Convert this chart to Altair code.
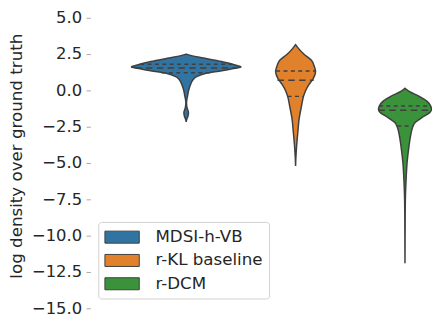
import altair as alt
import pandas as pd

groups = ["MDSI-h-VB", "r-KL baseline", "r-DCM"]
colors = ["#3274a1", "#e1812c", "#3a923a"]

# violin profiles: value (y) and relative density width (1.0 = widest violin)
blue_y = [2.50, 2.41, 2.18, 1.96, 1.80, 1.70, 1.65, 1.62, 1.59, 1.54, 1.45, 1.35, 1.17, 0.95, 0.72, 0.38, 0.05, -0.41, -0.81, -1.19, -1.53, -1.76, -2.03, -2.16]
blue_w = [0.0, 0.08, 0.38, 0.68, 0.85, 0.94, 0.985, 1.0, 0.985, 0.92, 0.80, 0.65, 0.35, 0.19, 0.122, 0.077, 0.047, 0.024, 0.006, 0.015, 0.042, 0.033, 0.008, 0.0]

orange_y = [3.15, 2.86, 2.52, 2.07, 1.62, 1.28, 0.83, 0.38, -0.07, -0.41, -1.08, -1.98, -2.88, -3.78, -4.68, -5.2]
orange_w = [0.0, 0.06, 0.145, 0.29, 0.345, 0.365, 0.325, 0.24, 0.177, 0.145, 0.108, 0.064, 0.041, 0.02, 0.005, 0.0]

green_y = [0.15, -0.07, -0.41, -0.74, -1.08, -1.31, -1.53, -1.87, -2.21, -2.55, -3.0, -3.9, -5.02, -5.9, -6.8, -7.5, -9.0, -10.5, -11.9]
green_w = [0.0, 0.075, 0.26, 0.40, 0.47, 0.485, 0.45, 0.31, 0.186, 0.138, 0.108, 0.071, 0.037, 0.023, 0.0125, 0.007, 0.003, 0.0015, 0.0]

# inner quartile lines: lower/upper quartiles and median
blue_q = [1.80, 1.55, 1.21]
blue_qw = [0.84, 0.93, 0.45]
orange_q = [1.34, 0.70, -0.41]
orange_qw = [0.355, 0.33, 0.145]
green_q = [-1.07, -1.36, -2.45]
green_qw = [0.475, 0.485, 0.14]
q_kind = ["quartile", "median", "quartile"]

y_ticks = [5.0, 2.5, 0.0, -2.5, -5.0, -7.5, -10.0, -12.5, -15.0]

profiles = [(blue_y, blue_w), (orange_y, orange_w), (green_y, green_w)]
quarts = [(blue_q, blue_qw), (orange_q, orange_qw), (green_q, green_qw)]

dodge = 0.8 / len(groups)
rows = []
qrows = []
for i, g in enumerate(groups):
    center = (i - (len(groups) - 1) / 2) * dodge
    ys, ws = profiles[i]
    for v, w in zip(ys, ws):
        hw = w * dodge / 2
        rows.append({"group": g, "value": v, "lo": center - hw, "hi": center + hw})
    qs, qws = quarts[i]
    for v, w, kind in zip(qs, qws, q_kind):
        hw = w * dodge / 2
        qrows.append({"group": g, "kind": kind, "value": v, "lo": center - hw, "hi": center + hw})

df = pd.DataFrame(rows)
qdf = pd.DataFrame(qrows)

FONT = "DejaVu Sans"
EDGE = "#3f3f3f"

xscale = alt.Scale(domain=[-0.5, 0.3325], nice=False, zero=False)
yscale = alt.Scale(domain=[-15, 5], nice=False, zero=False)

yaxis = alt.Axis(
    values=y_ticks, format=".1f", title="log density over ground truth",
    titleFont=FONT, titleFontSize=17, titleFontWeight="normal", titleColor="#262626",
    titleX=-70.5, titleY=140.5, titleAngle=270, titleBaseline="alphabetic", titleAlign="center",
    labelFont=FONT, labelFontSize=16.7, labelColor="#262626", labelPadding=4.5, labelOverlap=False,
    tickSize=4.5, tickColor="#aaaaaa", tickWidth=1, domain=False, grid=False,
)

legend = alt.Legend(title=None, orient="none", legendX=8, legendY=208,
                    symbolType="M-1,-0.7L3,-0.7L3,0.7L-1,0.7Z",
                    symbolSize=306.25, symbolStrokeColor=EDGE, symbolStrokeWidth=1,
                    symbolOpacity=1, labelFont=FONT, labelFontSize=17,
                    labelColor="#262626", labelOffset=33.2, padding=6,
                    rowPadding=5.75, strokeColor="#d0d0d0", fillColor="white",
                    cornerRadius=3)

violins = alt.Chart(df).mark_area(
    orient="horizontal", interpolate="monotone", stroke=EDGE, strokeWidth=1.5, opacity=1
).encode(
    y=alt.Y("value:Q", scale=yscale, axis=yaxis),
    x=alt.X("lo:Q", scale=xscale, axis=None, stack=None),
    x2="hi:Q",
    color=alt.Color("group:N", scale=alt.Scale(domain=groups, range=colors), sort=groups,
                    legend=legend),
)

quart = alt.Chart(qdf).transform_filter(alt.datum.kind == "quartile").mark_rule(
    color=EDGE, strokeWidth=1.5, strokeDash=[4, 3.5]
).encode(y=alt.Y("value:Q", scale=yscale, axis=yaxis),
         x=alt.X("lo:Q", scale=xscale, axis=None), x2="hi:Q")

median = alt.Chart(qdf).transform_filter(alt.datum.kind == "median").mark_rule(
    color=EDGE, strokeWidth=1.5, strokeDash=[6.5, 4.5]
).encode(y=alt.Y("value:Q", scale=yscale, axis=yaxis),
         x=alt.X("lo:Q", scale=xscale, axis=None), x2="hi:Q")

chart = alt.layer(violins, quart, median).properties(
    width=348, height=296,
    background="white",
    autosize=alt.AutoSizeParams(type="none"),
    padding={"left": 84, "top": 7, "right": 0, "bottom": 11},
).configure_view(strokeWidth=0)

chart.save("out.html", embed_options={"renderer": "svg", "actions": False})
